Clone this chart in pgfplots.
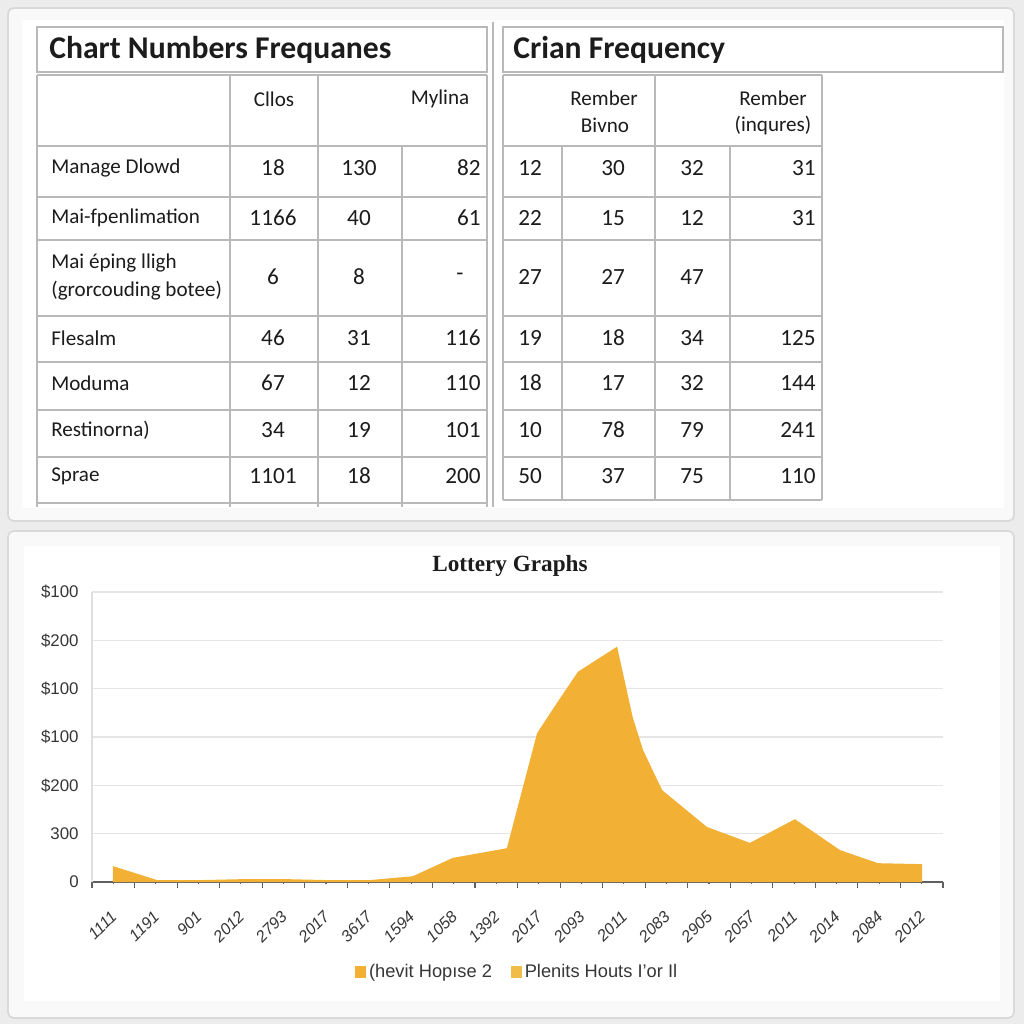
\documentclass[border=0pt]{standalone}
\usepackage{fontspec}
\setmainfont{Liberation Serif}
\setsansfont{Liberation Sans}
\newfontfamily\tabfont{Carlito}
\usepackage{pgfplots}
\pgfplotsset{compat=1.18}
\definecolor{pagebg}{RGB}{236,236,236}
\definecolor{rulegray}{RGB}{185,185,185}
\definecolor{lotto}{RGB}{242,177,52}
\definecolor{lottolight}{RGB}{240,190,72}
\definecolor{ink}{RGB}{28,28,28}
\definecolor{ticktext}{RGB}{55,55,55}
\tikzset{
  cell/.style={font=\tabfont\fontsize{16.5}{19}\selectfont, text=ink, inner sep=0pt},
  lab/.style={font=\tabfont\fontsize{15}{17}\selectfont, text=ink, inner sep=0pt, anchor=west},
  head/.style={font=\tabfont\fontsize{15}{17}\selectfont, text=ink, inner sep=0pt, align=center},
  ttl/.style={font=\tabfont\bfseries\fontsize{22.5}{26}\selectfont, text=ink, anchor=west, inner sep=0pt},
}

\begin{document}
\begin{tikzpicture}[x=0.25mm,y=-0.25mm]
  % page and the two panels
  \fill[pagebg] (0,0) rectangle (1024,1024);
  \filldraw[fill=gray!5, draw=gray!30, line width=1.2pt, rounded corners=4pt] (8,8) rectangle (1014,521);
  \fill[white] (22,20) rectangle (1004,508);
  \filldraw[fill=gray!5, draw=gray!30, line width=1.2pt, rounded corners=4pt] (8,531) rectangle (1014,1018);
  \fill[white] (24,546) rectangle (1000,1001);

  % ---- left table ----
  \begin{scope}[draw=rulegray, line width=1.1pt]
    \draw[fill=white] (37,27) rectangle (487,72);
    \foreach \y in {75,146,197,240,316,362,410,457,503}
      \draw (37,\y) -- (487,\y);
    \draw (37,75) -- (37,507);
    \draw (230,75) -- (230,507);
    \draw (318,75) -- (318,507);
    \draw (402,146) -- (402,507);
    \draw (487,75) -- (487,507);
    \draw (493,22) -- (493,507);
  \end{scope}
  \node[ttl] at (49,50) {Chart Numbers Frequanes};
  \node[head] at (274,99) {Cllos};
  \node[head] at (440,99) {Mylina};
  \foreach \lb/\a/\b/\c/\y in {Manage Dlowd/18/130/82/168,
      Mai-fpenlimation/1166/40/61/218,
      Flesalm/46/31/116/338, Moduma/67/12/110/383,
      Restinorna)/34/19/101/430, Sprae/1101/18/200/476} {
    \node[lab] at (51,\y) {\lb};
    \node[cell] at (273,\y) {\a};
    \node[cell] at (359,\y) {\b};
    \node[cell, anchor=east] at (481,\y) {\c};
  }
  \node[lab] at (51,263) {Mai éping lligh};
  \node[lab] at (51,291) {(grorcouding botee)};
  \node[cell] at (273,277) {6};
  \node[cell] at (359,277) {8};
  \node[cell] at (460,277) {-};

  % ---- right table ----
  \begin{scope}[draw=rulegray, line width=1.1pt]
    \draw[fill=white] (503,27) rectangle (1003,72);
    \foreach \y in {75,146,197,240,316,362,410,457,500}
      \draw (503,\y) -- (822,\y);
    \draw (503,75) -- (503,500);
    \draw (562,146) -- (562,500);
    \draw (655,75) -- (655,500);
    \draw (730,146) -- (730,500);
    \draw (822,75) -- (822,500);
  \end{scope}
  \node[ttl] at (513,50) {Crian Frequency};
  \node[head] at (604,98) {Rember};
  \node[head] at (605,125) {Bivno};
  \node[head] at (773,98) {Rember};
  \node[head] at (773,125) {(inqures)};
  \foreach \a/\b/\c/\d/\y in {12/30/32/31/168, 22/15/12/31/218, 27/27/47//277,
      19/18/34/125/338, 18/17/32/144/383, 10/78/79/241/430, 50/37/75/110/476} {
    \node[cell] at (530,\y) {\a};
    \node[cell] at (613,\y) {\b};
    \node[cell] at (692,\y) {\c};
    \node[cell, anchor=east] at (816,\y) {\d};
  }

  % ---- lottery area chart ----
  \node[font=\bfseries\fontsize{16.5}{19}\selectfont, text=ink] at (510,566) {Lottery Graphs};
  \begin{axis}[
    at={(23mm,-220.5mm)}, anchor=south west,
    scale only axis, width=212.75mm, height=72.5mm,
    xmin=0, xmax=20, ymin=0, ymax=6,
    axis x line*=bottom, axis y line*=left,
    x axis line style={draw=gray!75!black, line width=1pt},
    y axis line style={draw=gray!25, line width=1pt},
    ytick={0,...,6},
    yticklabels={0,300,\$200,\$100,\$100,\$200,\$100},
    ytick style={draw=none},
    ymajorgrids, grid style={gray!20, line width=0.8pt},
    yticklabel style={font=\sffamily\fontsize{12}{14}\selectfont, text=ticktext, xshift=-1.5mm},
    xtick={0.5,1.5,...,19.5},
    xticklabels={1111,1191,901,2012,2793,2017,3617,1594,1058,1392,2017,2093,2011,2083,2905,2057,2011,2014,2084,2012},
    minor xtick={0,1,...,20},
    xtick style={draw=gray!75!black, line width=0.8pt},
    tick align=outside, major tick length=0.6mm, minor tick length=1.4mm,
    xticklabel style={xshift=1mm, yshift=-6.5mm, rotate=45, anchor=east,
      font=\sffamily\itshape\fontsize{11.5}{13}\selectfont, text=ticktext},
    legend style={at={(0.5,-0.31)}, anchor=center, draw=none, fill=none,
      legend columns=2, font=\sffamily\fontsize{13}{15}\selectfont, text=ticktext,
      /tikz/every even column/.append style={column sep=4mm}},
    legend image code/.code={\fill[#1] (0mm,-1.4mm) rectangle (2.8mm,1.4mm);},
  ]
    \addplot[fill=lotto, draw=none] coordinates {
      (0.49,0.33) (1.53,0.04) (2.54,0.04) (3.55,0.06) (4.56,0.06)
      (5.55,0.04) (6.53,0.04) (7.54,0.12) (8.48,0.50) (9.12,0.60)
      (9.75,0.70) (10.46,3.08) (10.93,3.71) (11.42,4.35) (12.34,4.87)
      (12.71,3.40) (12.95,2.73) (13.40,1.90) (14.45,1.14) (15.46,0.81)
      (16.52,1.30) (17.58,0.66) (18.47,0.39) (19.51,0.37)
    } \closedcycle;
    \addlegendentry{(hevit Hopıse 2}
    \addlegendimage{fill=lottolight, draw=none}
    \addlegendentry{Plenits Houts I'or Il}
  \end{axis}

  \pgfresetboundingbox
  \path[use as bounding box] (0,0) rectangle (1024,1024);
\end{tikzpicture}
\end{document}
